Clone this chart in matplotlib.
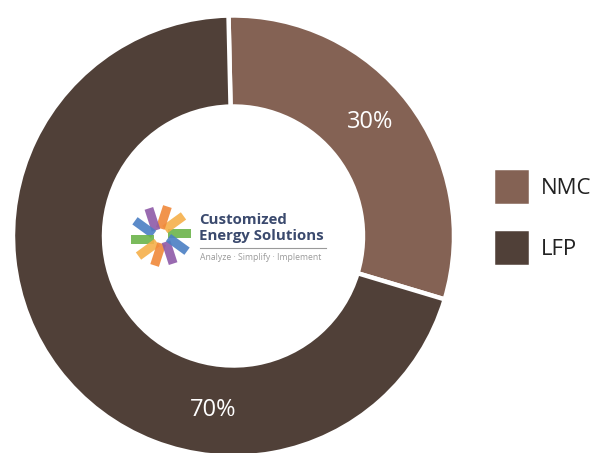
import numpy as np
import matplotlib.pyplot as plt
from matplotlib.patches import Polygon

# Battery chemistry share
labels = ["NMC", "LFP"]
shares = [30, 70]
colors = ["#846254", "#504038"]

W, H = 595, 453
fig = plt.figure(figsize=(W / 100, H / 100), dpi=100)
ax = fig.add_axes([0, 0, 1, 1])

cx, cy, R = 233.5, 217, 220.5
wedges, _ = ax.pie(shares, colors=colors, startangle=91.3, counterclock=False,
                   center=(cx, cy), radius=R,
                   wedgeprops=dict(width=91, edgecolor="white", linewidth=3.2))

ax.set_xlim(0, W)
ax.set_ylim(0, H)
ax.set_aspect("equal")
ax.axis("off")

# percentage labels
ax.text(370, 331, f"{shares[0]}%", color="white", fontsize=17,
        family="Open Sans", ha="center", va="center")
ax.text(213, 43, f"{shares[1]}%", color="white", fontsize=17,
        family="Open Sans", ha="center", va="center")

# legend
fs = 16
px = fs * 100 / 72
hl = 33 / px * 33 / 29
hh = (hl - 0.245) / 0.65
ax.legend(wedges, labels, loc="upper left", bbox_to_anchor=(493 / W, 1 - 168 / H),
          frameon=False, prop=dict(family="Open Sans", size=fs),
          handlelength=hl, handleheight=hh, handletextpad=10 / px,
          labelspacing=23.5 / px, borderpad=0, borderaxespad=0, labelcolor="#222222")

# logo in the hole
lx, ly = 161, 217
logo_cols = ["#6cb44a", "#f5b04a", "#f0883a", "#8e5aa8", "#4a7fc4"] * 2
for k, c in enumerate(logo_cols):
    t = np.deg2rad(36 * k)
    u = np.array([np.cos(t), np.sin(t)])
    n = np.array([-np.sin(t), np.cos(t)])
    base = np.array([lx, ly]) + n * 3
    pts = [base + u * 7 - n * 4.5, base + u * 30 - n * 4.5,
           base + u * 30 + n * 4.5, base + u * 7 + n * 4.5]
    ax.add_patch(Polygon(pts, closed=True, color=c, alpha=0.9, lw=0))

ax.text(199, 453 - 220, "Customized", color="#3b4a6e", fontsize=10.8,
        fontweight="bold", family="Open Sans", va="center")
ax.text(199, 453 - 236, "Energy Solutions", color="#3b4a6e", fontsize=10.8,
        fontweight="bold", family="Open Sans", va="center")
ax.plot([200, 326], [453 - 248, 453 - 248], color="#9a9a9a", lw=0.8)
ax.text(200, 453 - 258, "Analyze \u00b7 Simplify \u00b7 Implement", color="#9a9a9a",
        fontsize=6.2, family="Open Sans", va="center")

fig.savefig("out.png", dpi=100)
